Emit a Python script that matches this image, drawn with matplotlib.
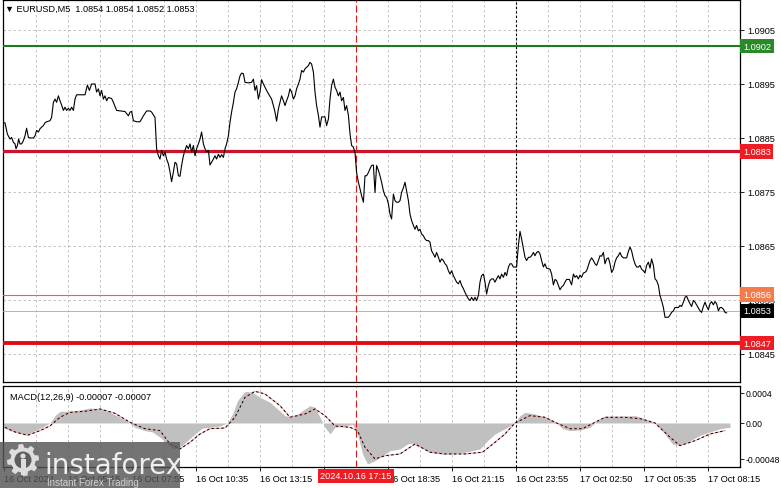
import matplotlib.pyplot as plt
from matplotlib.patches import Rectangle, Circle, Polygon
from matplotlib.transforms import blended_transform_factory
import numpy as np

plt.rcParams['font.family'] = ['Liberation Sans', 'DejaVu Sans']

# EURUSD M5 closes, x = bar number from the left edge of the chart
bar = [0, 1, 2.2, 3.5, 4.3, 5.2, 6, 6.5, 7.2, 7.8, 8.5, 9.3, 10.2, 11, 11.8, 12.7, 13.5, 15.2, 16, 16.8,
       17.7, 18.5, 19.3, 20.2, 21, 21.8, 23.5, 24.3, 25.2, 26, 26.8, 27.7, 28.5, 29.3, 30.2, 31, 31.8, 32.7, 33.5, 34.3,
       35.2, 36, 36.8, 41, 42.2, 43.2, 44.3, 46, 46.8, 47.7, 48.5, 49.3, 50.2, 51, 51.8, 52.7, 54.3, 55.2, 56.8, 61,
       62.7, 63.5, 64.3, 65.2, 66.8, 68.5, 70.2, 71.8, 73.5, 74.3, 76, 76.8, 77.7, 78.5, 79.3, 80.2, 81, 81.8, 82.7, 83.5,
       84.3, 85.2, 86, 86.8,
       87.7, 88.5, 89.3, 90.2, 91, 91.8, 92.7, 93.5, 94.3, 95.2, 96, 96.8, 97.7, 98.5, 99.3, 100.2, 101, 101.8, 102.7,
       103.5, 104.3, 105.2, 106, 106.8, 107.7, 108.5, 109.3, 110.2, 111, 111.8, 112.7, 113.5, 114.3, 115.2, 116, 116.8,
       117.7, 118.5, 119.3, 120.2, 121, 122.7, 124.3, 125.2, 126, 126.8, 127.7, 128.5, 129.3, 130.2, 131, 131.8, 132.7,
       134.3, 135.2, 136, 136.8, 137.7, 138.5, 139.3, 140.2, 141, 141.8, 142.7, 143.5, 144.3, 145.2, 146, 146.8, 147.7,
       148.5, 149.3, 150.2, 151, 151.8, 152.7, 153.5, 154.3, 155.2, 156, 156.8, 157.7, 158.5, 159.3, 161, 161.8, 162.7,
       163.5, 164.3, 165.2, 166, 166.8, 167.7, 168.5, 169.3, 170.2, 171, 171.8, 172.7, 173.5, 174.3, 175.2,
       176, 176.8, 177.7, 178.5, 179.3, 180.2, 181, 181.8, 182.7, 183.5, 184.3, 185.2, 186, 186.8, 187.7, 188.5, 189.3,
       190.2, 191, 191.8, 192.7, 193.5, 194.3, 195.2, 196, 196.8, 197.7, 198.5, 199.3, 200.2, 201, 201.8, 202.7, 203.5,
       204.3, 205.2, 206, 206.8, 207.7, 208.5, 209.3, 210.2, 211, 211.8, 212.7, 213.5, 214.3, 215.2, 216, 216.8, 217.7,
       218.5, 219.3, 220.2, 221, 221.8, 222.7, 223.5, 224.3, 225.2, 226, 226.8, 227.7, 228.5, 229.3, 230.2, 231, 231.8,
       232.7, 233.5, 234.3, 235.2, 236, 236.8, 237.7, 238.5, 239.3, 240.2, 241, 241.8, 242.7, 243.5, 244.3, 245.2, 246,
       246.8, 247.7, 248.5, 249.3, 250.2, 251, 251.8, 252.7, 253.5, 254.3, 255.2, 256.8, 257.7, 258.5, 259.3, 260.2, 261,
       261.8, 262.7,
       263.5, 264.3, 265.2, 266, 266.8, 267.7, 268.5, 269.3, 270.2, 271, 271.8, 273.5, 274.3, 275.2, 276, 276.8, 277.7,
       278.5, 279.3, 280.2, 281, 281.8, 283.2, 284.3, 285.2, 286, 286.8, 287.7, 288.5, 289.3, 290.2, 291, 291.8, 292.7,
       293.5, 294.3, 295.2, 296, 296.8, 297.7, 298.5, 299.3, 300.2, 301, 301.8, 302.7, 303.5, 304.3, 305.2, 306, 306.8,
       307.7, 308.5, 309.3, 310.2, 311.8, 312.7, 313.5, 314.3, 315.2, 316, 316.8, 317.7, 318.5, 319.3, 320.2, 321, 321.8,
       322.7, 323.5, 324.3, 325.2, 326, 326.8, 327.7, 328.5, 329.3, 330.2, 331, 331.8, 332.7, 333.5, 334.3, 335.2, 336,
       337.7, 338.5, 339.3, 340.2, 341, 341.8, 342.7, 343.5, 344.3, 345.2, 346, 346.8, 347.7, 348.5, 349.3, 350.2, 351,
       351.8, 352.7, 353.5, 354.3, 355.2, 356, 356.8, 357.7, 358.5, 359.3, 360.2, 361, 361.8]
close = [1.08879, 1.08878, 1.08857, 1.08848, 1.08851, 1.08842, 1.08839, 1.08830, 1.08836, 1.08848,
         1.08839, 1.08839, 1.08845, 1.08854, 1.08868, 1.08851, 1.08850, 1.08850, 1.08854, 1.08864,
         1.08861, 1.08867, 1.08870, 1.08873, 1.08878, 1.08880, 1.08882, 1.08888, 1.08916, 1.08922,
         1.08916, 1.08928, 1.08919, 1.08911, 1.08901, 1.08907, 1.08901, 1.08905, 1.08901, 1.08907,
         1.08901, 1.08922, 1.08930, 1.08930, 1.08948, 1.08938, 1.08950, 1.08950, 1.08935, 1.08941,
         1.08928, 1.08938, 1.08922, 1.08928, 1.08919, 1.08925, 1.08923, 1.08916, 1.08901, 1.08899,
         1.08891, 1.08898, 1.08899, 1.08882, 1.08880, 1.08880, 1.08891, 1.08900, 1.08900, 1.08898,
         1.08888, 1.08830, 1.08817, 1.08811, 1.08827, 1.08817, 1.08824, 1.08811, 1.08802, 1.08787,
         1.08769, 1.08787, 1.08805, 1.08802,
         1.08780, 1.08779, 1.08799, 1.08817, 1.08827, 1.08836, 1.08830, 1.08839, 1.08824, 1.08836, 1.08817, 1.08830,
         1.08839, 1.08848, 1.08861, 1.08839, 1.08830, 1.08824, 1.08827, 1.08800, 1.08805, 1.08811, 1.08817, 1.08811,
         1.08820, 1.08814, 1.08819, 1.08814, 1.08830, 1.08839, 1.08854, 1.08879, 1.08898, 1.08916, 1.08935, 1.08941,
         1.08953, 1.08965, 1.08970, 1.08969, 1.08953, 1.08952, 1.08953, 1.08959, 1.08938, 1.08947, 1.08922, 1.08935,
         1.08958, 1.08950, 1.08944, 1.08938, 1.08932, 1.08922, 1.08910, 1.08898, 1.08881, 1.08904, 1.08916, 1.08928,
         1.08919, 1.08910, 1.08919, 1.08928, 1.08941, 1.08935, 1.08922, 1.08928, 1.08941, 1.08950, 1.08959, 1.08975,
         1.08972, 1.08978, 1.08981, 1.08984, 1.08990, 1.08987, 1.08972, 1.08935, 1.08910, 1.08892, 1.08870, 1.08889,
         1.08889, 1.08873, 1.08885, 1.08922, 1.08947, 1.08959, 1.08944, 1.08938, 1.08928, 1.08935, 1.08919, 1.08925,
         1.08901, 1.08910, 1.08892, 1.08858, 1.08836, 1.08833,
         1.08823, 1.08786, 1.08768, 1.08756, 1.08743, 1.08731, 1.08780, 1.08780, 1.08786, 1.08793, 1.08799, 1.08800,
         1.08749, 1.08799, 1.08790, 1.08780, 1.08768, 1.08752, 1.08743, 1.08740, 1.08728, 1.08709, 1.08700, 1.08746,
         1.08734, 1.08731, 1.08731, 1.08734, 1.08749, 1.08758, 1.08768, 1.08752, 1.08734, 1.08709, 1.08697, 1.08688,
         1.08681, 1.08688, 1.08678, 1.08681, 1.08672, 1.08669, 1.08663, 1.08660, 1.08660, 1.08657, 1.08641, 1.08635,
         1.08629, 1.08638, 1.08629, 1.08620, 1.08626, 1.08623, 1.08617, 1.08614, 1.08604, 1.08598, 1.08604, 1.08595,
         1.08589, 1.08583, 1.08580, 1.08586, 1.08577, 1.08571, 1.08564, 1.08558, 1.08552, 1.08549, 1.08555, 1.08549,
         1.08555, 1.08549, 1.08558, 1.08583, 1.08595, 1.08598, 1.08583, 1.08561, 1.08577, 1.08586, 1.08589, 1.08589,
         1.08583, 1.08589, 1.08595, 1.08589, 1.08598, 1.08592, 1.08601, 1.08595, 1.08611, 1.08617, 1.08617, 1.08611,
         1.08611, 1.08651, 1.08677, 1.08663, 1.08645, 1.08629, 1.08623, 1.08629,
         1.08629, 1.08632, 1.08638, 1.08632, 1.08638, 1.08640, 1.08635, 1.08623, 1.08611, 1.08617, 1.08609, 1.08607,
         1.08598, 1.08578, 1.08588, 1.08586, 1.08577, 1.08569, 1.08574, 1.08577, 1.08583, 1.08588, 1.08588, 1.08578,
         1.08598, 1.08592, 1.08595, 1.08589, 1.08596, 1.08592, 1.08600, 1.08601, 1.08604, 1.08614, 1.08623, 1.08628,
         1.08623, 1.08617, 1.08614, 1.08623, 1.08632, 1.08631, 1.08638, 1.08617, 1.08626, 1.08628, 1.08617, 1.08601,
         1.08607, 1.08620, 1.08628, 1.08632, 1.08638, 1.08631, 1.08628, 1.08628, 1.08640, 1.08648, 1.08641, 1.08626,
         1.08617, 1.08611, 1.08611, 1.08614, 1.08607, 1.08604, 1.08600, 1.08614, 1.08620, 1.08609, 1.08626, 1.08614,
         1.08589, 1.08586, 1.08577, 1.08558, 1.08549, 1.08536, 1.08518, 1.08518, 1.08518, 1.08522, 1.08527, 1.08530,
         1.08536, 1.08536, 1.08540, 1.08538, 1.08546, 1.08555, 1.08557, 1.08549, 1.08543, 1.08538, 1.08549, 1.08546,
         1.08541, 1.08535, 1.08530, 1.08527, 1.08538, 1.08546, 1.08538, 1.08532, 1.08543, 1.08547, 1.08541, 1.08547,
         1.08543, 1.08530, 1.08536, 1.08536, 1.08533, 1.08527, 1.08526]

# MACD(12,26,9) histogram and signal line
hist_bar = [0, 3.5, 8.5, 12.25, 16, 19.75, 23.5, 26, 28.5, 33.5, 38.5, 43.5, 48.5, 53.5, 58.5, 62.25, 66, 71,
            74.75, 78.5, 82.25, 84.75, 88.5, 92.25, 96, 99.75, 103.5, 108.5, 112.25, 114.75, 117.25, 121, 124.75,
            128.5, 133.5, 137.25, 141, 144.75, 148.5, 153.5, 156, 158.5, 161, 163.5, 166, 171, 174.75, 177.25,
            179.75, 182.25, 186, 189.75, 193.5, 198.5, 202.25, 204.75, 208.5, 213.5, 218.5, 223.5, 231, 238.5,
            242.25, 246, 251, 256, 258.5, 261, 266, 271, 276, 279.75, 283.5, 288.5, 293.5, 297.25, 301, 308.5,
            316, 321, 326, 331, 334.75, 338.5, 343.5, 348.5, 353.5, 358.5, 363.5]
hist_val = [-0.000058, -0.000102, -0.000138, -0.000147, -0.000102, -0.000058, 0.0, 0.000098, 0.000156, 0.000156,
            0.000173, 0.0002, 0.000187, 0.000142, 0.000076, 0.000022, -0.000058, -0.000102, -0.00012, -0.00019,
            -0.00028, -0.000347, -0.000324, -0.000236, -0.000147, -0.000067, -0.000058, -0.00004, 0.0, 0.00012,
            0.000298, 0.000422, 0.000409, 0.000342, 0.000276, 0.000187, 0.000098, 0.000076, 0.000142, 0.000231,
            0.000209, 0.000076, -0.000058, -0.000147, -0.000058, -0.00004, -0.000018, -0.000147, -0.000413, -0.000547,
            -0.000502, -0.000436, -0.00037, -0.000347, -0.00028, -0.00027, -0.000324, -0.00039, -0.000413, -0.000413,
            -0.00039, -0.000347, -0.000236, -0.000147, -0.000076, 0.0, 0.000098, 0.000142, 0.00012, 0.000076,
            0.000022, -0.000076, -0.000102, -0.000093, -0.000058, 0.000036, 0.000089, 0.000089, 0.000098, 0.000058,
            0.0, -0.000147, -0.00028, -0.000302, -0.000236, -0.000164, -0.00012, -0.000076, -0.000058]
sig_bar = [1, 6, 12.25, 18.5, 23.5, 28.5, 33.5, 41, 48.5, 56, 63.5, 71, 78.5, 83.5, 88.5, 93.5, 98.5, 103.5, 111,
           116, 121, 126, 131, 138.5, 143.5, 151, 156, 161, 166, 173.5, 177.25, 181, 186, 191, 198.5, 206, 213.5,
           221, 231, 239.75, 246, 251, 256, 263.5, 271, 276, 283.5, 289.75, 296, 301, 311, 318.5, 326, 333.5, 338.5,
           346, 353.5, 361]
sig_val = [-0.000058, -0.00012, -0.000164, -0.000102, -0.00004, 0.000076, 0.000142, 0.000156, 0.000187, 0.000129,
           0.000009, -0.000076, -0.000102, -0.00028, -0.000347, -0.000258, -0.000147, -0.000076, -0.000067, 0.000076,
           0.000342, 0.000422, 0.000387, 0.000231, 0.000076, 0.00012, 0.000187, 0.000098, -0.00004, -0.000058,
           -0.000102, -0.000324, -0.00048, -0.000436, -0.000413, -0.00028, -0.00039, -0.000413, -0.000413, -0.00039,
           -0.000258, -0.000147, 0.0, 0.000098, 0.000076, 0.000009, -0.000076, -0.000076, 0.000009, 0.000076,
           0.000076, 0.000058, 0.0, -0.00019, -0.000302, -0.000236, -0.000147, -0.000102]

# horizontal levels drawn on the chart
level_price = [1.0902, 1.08825, 1.0856, 1.0853, 1.0847]
level_text = ['1.0902', '1.0883', '1.0856', '1.0853', '1.0847']
level_color = ['#1f7a1f', '#c8142c', '#f0643c', '#a8a8a8', '#e00c14']
level_lw = [1.5, 2.3, 0.8, 0.6, 2.8]
level_bg = ['#2a8a2a', '#ee1c24', '#f47c4c', '#000000', '#ee1c24']

price_ticks = [1.0845, 1.0855, 1.0865, 1.0875, 1.0885, 1.0895, 1.0905]
# the 15:55 label sits under the cursor date box and is not visible
time_bar = [0.5, 32.5, 64.5, 96.5, 128.5, 160.5, 192.5, 224.5, 256.5, 288.5, 320.5, 352.5]
time_text = ['16 Oct 2024', '16 Oct 05:15', '16 Oct 07:55', '16 Oct 10:35', '16 Oct 13:15', '',
             '16 Oct 18:35', '16 Oct 21:15', '16 Oct 23:55', '17 Oct 02:50', '17 Oct 05:35', '17 Oct 08:15']
grid_bar = np.arange(16.5, 369, 16)
cursor_bar = 176.5
cursor_text = '2024.10.16 17:15'
session_bar = 256.5

W, H = 781, 489
FS = 6.6
fig = plt.figure(figsize=(W / 100, H / 100), dpi=100)
ax = fig.add_axes([3 / W, 1 - 383 / H, 737 / W, 382 / H])
axm = fig.add_axes([3 / W, 1 - 468 / H, 737 / W, 81 / H])

grid_kw = dict(color='#b8b8b8', linestyle=(0, (3, 3)), linewidth=0.6)

for a in (ax, axm):
    a.set_xlim(0, 368.5)
    for s in a.spines.values():
        s.set_linewidth(0.9)
    a.yaxis.tick_right()
    a.tick_params(axis='y', length=3, width=0.6, pad=2, labelsize=FS)
    for g in grid_bar:
        a.axvline(g, zorder=0, **grid_kw)
    a.axvline(cursor_bar, color='#e01818', lw=0.8, linestyle=(0, (6, 3)), zorder=4)
    a.axvline(session_bar, color='black', lw=0.8, linestyle=(0, (2, 2)), zorder=4)

# price panel
ax.set_ylim(1.083981, 1.091055)
ax.set_yticks(price_ticks)
ax.set_yticklabels([f'{p:.4f}' for p in price_ticks])
for p in price_ticks:
    ax.axhline(p, zorder=0, **grid_kw)
ax.set_xticks([])
ax.plot(bar, close, color='black', lw=0.8, zorder=5)

tr = blended_transform_factory(ax.transAxes, ax.transData)
for p, t, c, lw, bg in zip(level_price, level_text, level_color, level_lw, level_bg):
    ax.axhline(p, color=c, lw=lw, zorder=3)
    ax.text(1.004, p, t, transform=tr, ha='left', va='center', fontsize=FS, color='white',
            bbox=dict(boxstyle='square,pad=0.3', fc=bg, ec='none'), clip_on=False, zorder=10)

fig.text(5 / W, 1 - 9 / H, '▼ EURUSD,M5  1.0854 1.0854 1.0852 1.0853', fontsize=FS, va='center')

# MACD panel
axm.set_ylim(-0.000587, 0.000493)
axm.set_yticks([0.0004, 0.0, -0.00048])
axm.set_yticklabels(['0.0004', '0.00', '-0.00048'])
axm.tick_params(axis='y', pad=1, labelsize=6.2)
axm.fill_between(hist_bar, 0, hist_val, color='#c0c0c0', lw=0, zorder=1)
axm.plot(sig_bar, sig_val, color='#f0a0a0', lw=0.8, zorder=3)
axm.plot(sig_bar, sig_val, color='black', lw=0.7, linestyle=(0, (2.5, 2.5)), zorder=3)
axm.set_xticks(time_bar)
axm.set_xticklabels(time_text, ha='left')
axm.tick_params(axis='x', length=3, width=0.6, pad=2, labelsize=FS)
axm.text(7 / 737, 0.87, 'MACD(12,26,9) -0.00007 -0.00007', transform=axm.transAxes, fontsize=FS, va='center')
axm.text(cursor_bar, -9 / 81, cursor_text, ha='center', va='center', fontsize=FS, color='white',
         bbox=dict(boxstyle='square,pad=0.3', fc='#ee1c24', ec='none'), clip_on=False, zorder=10,
         transform=blended_transform_factory(axm.transData, axm.transAxes))

# watermark logo bottom-left
lg = fig.add_axes([0, 0, 180 / W, 46 / H])
lg.set_xlim(0, 180)
lg.set_ylim(0, 46)
lg.axis('off')
lg.add_patch(Rectangle((0, 0), 180, 46, fc='#555555', alpha=0.82, ec='none'))
ang = np.linspace(0, 2 * np.pi, 65)[:-1]
rad = np.where((np.arange(64) // 4) % 2 == 0, 16, 12.5)
lg.add_patch(Polygon(np.c_[23 + rad * np.cos(ang), 28 + rad * np.sin(ang)], fc='#dddddd', ec='none'))
lg.add_patch(Circle((23, 28), 8.5, fc='#5e5e5e', ec='none'))
lg.add_patch(Circle((23, 32), 2.6, fc='#dddddd', ec='none'))
lg.add_patch(Rectangle((20.5, 13), 5, 16, fc='#dddddd', ec='none'))
lg.text(44, 23, 'instaforex', fontsize=20, color='#eeeeee', va='center', ha='left', family=['DejaVu Sans'])
lg.text(47, 6, 'Instant Forex Trading', fontsize=7, color='#d0d0d0', va='center', ha='left')

fig.savefig('out.png', dpi=100)
